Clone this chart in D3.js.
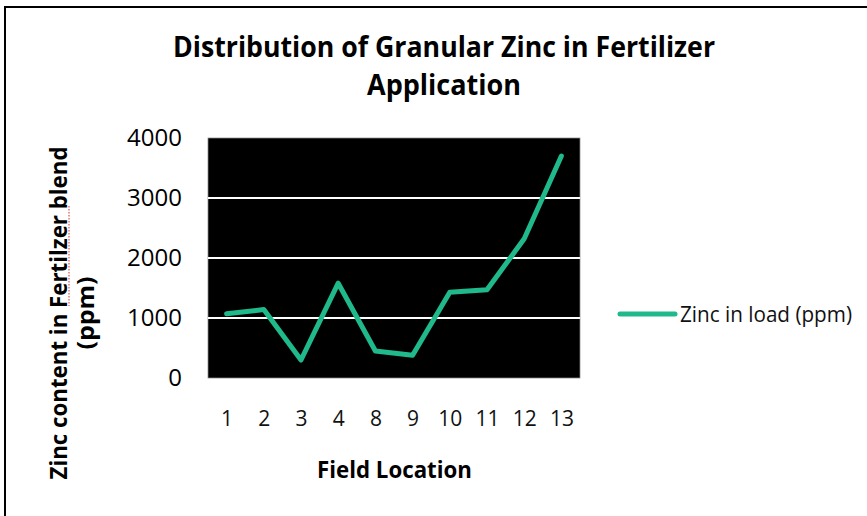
<!DOCTYPE html>
<html>
<head>
<meta charset="utf-8">
<script src="https://cdn.jsdelivr.net/npm/d3@7"></script>
<style>
  body { margin: 0; background: #fff; }
  svg { display: block; font-family: "Open Sans", "DejaVu Sans", sans-serif; }
</style>
</head>
<body>
<div id="chart"></div>
<script>
const titleLines = ["Distribution of Granular Zinc in Fertilizer", "Application"];
const fieldLocations = ["1", "2", "3", "4", "8", "9", "10", "11", "12", "13"];
const zincInLoad = [1070, 1140, 300, 1580, 450, 380, 1430, 1470, 2320, 3700];
const yTicks = [0, 1000, 2000, 3000, 4000];
const seriesName = "Zinc in load (ppm)";
const xTitle = "Field Location";
const yTitleLines = ["Zinc content in Fertilzer blend", "(ppm)"];

const width = 867, height = 516;
const plot = { left: 208, right: 580, top: 138, bottom: 378 };
const lineColor = "#20b98b";

const svg = d3.select("#chart").append("svg")
    .attr("width", width)
    .attr("height", height);

// outer frame (top and left edges visible)
svg.append("path")
    .attr("d", `M5,${height} L5,7 L${width},7`)
    .attr("fill", "none")
    .attr("stroke", "#000")
    .attr("stroke-width", 2);

// title
const titleWidths = [542, 154];
svg.selectAll("text.title")
    .data(titleLines)
    .enter().append("text")
    .attr("class", "title")
    .attr("x", 444)
    .attr("y", (d, i) => 57 + i * 38)
    .attr("text-anchor", "middle")
    .attr("font-size", 28)
    .attr("font-weight", "bold")
    .attr("textLength", (d, i) => titleWidths[i])
    .attr("lengthAdjust", "spacingAndGlyphs")
    .text(d => d);

const x = d3.scalePoint()
    .domain(fieldLocations)
    .range([plot.left, plot.right])
    .padding(0.5);

const y = d3.scaleLinear()
    .domain([0, 4000])
    .range([plot.bottom, plot.top]);

// plot area
svg.append("rect")
    .attr("x", plot.left)
    .attr("y", plot.top)
    .attr("width", plot.right - plot.left)
    .attr("height", plot.bottom - plot.top)
    .attr("fill", "#000")
    .attr("stroke", "#8a8a8a")
    .attr("stroke-width", 0.75);

// gridlines
svg.append("g")
    .selectAll("line")
    .data(yTicks.filter(d => d > 0 && d < 4000))
    .enter().append("line")
    .attr("x1", plot.left)
    .attr("x2", plot.right)
    .attr("y1", d => y(d))
    .attr("y2", d => y(d))
    .attr("stroke", "#fff")
    .attr("stroke-width", 2);

// y axis
const yAxis = svg.append("g")
    .attr("transform", `translate(${plot.left - 26},0)`)
    .call(d3.axisLeft(y).tickValues(yTicks).tickSize(0).tickPadding(0).tickFormat(d3.format("d")));
yAxis.select(".domain").remove();
yAxis.selectAll("text")
    .attr("font-size", 24)
    .attr("font-family", "'Open Sans', sans-serif")
    .attr("fill", "#000");

// x axis
const xAxis = svg.append("g")
    .attr("transform", `translate(0,${plot.bottom})`)
    .call(d3.axisBottom(x).tickSize(0).tickPadding(0));
xAxis.select(".domain").remove();
xAxis.selectAll("text")
    .attr("dy", 0)
    .attr("y", 48)
    .attr("font-size", 21)
    .attr("font-family", "'Open Sans', sans-serif")
    .attr("fill", "#111");

// line
const line = d3.line()
    .x((d, i) => x(fieldLocations[i]))
    .y(d => y(d));

svg.append("path")
    .datum(zincInLoad)
    .attr("d", line)
    .attr("fill", "none")
    .attr("stroke", lineColor)
    .attr("stroke-width", 5)
    .attr("stroke-linejoin", "round")
    .attr("stroke-linecap", "round");

// x title
svg.append("text")
    .attr("x", 394.5)
    .attr("y", 478)
    .attr("text-anchor", "middle")
    .attr("font-size", 23)
    .attr("font-weight", "bold")
    .attr("textLength", 155)
    .attr("lengthAdjust", "spacingAndGlyphs")
    .text(xTitle);

// y title
const yTitleWidths = [333, 73];
svg.selectAll("text.ytitle")
    .data(yTitleLines)
    .enter().append("text")
    .attr("class", "ytitle")
    .attr("transform", (d, i) => `translate(${67 + i * 27},313) rotate(-90)`)
    .attr("text-anchor", "middle")
    .attr("font-size", 23)
    .attr("font-weight", "bold")
    .attr("textLength", (d, i) => yTitleWidths[i])
    .attr("lengthAdjust", "spacingAndGlyphs")
    .text(d => d);

// spell-check squiggle under "Fertilzer" as in the source screenshot
svg.append("line")
    .attr("x1", 69).attr("x2", 69)
    .attr("y1", 206).attr("y2", 306)
    .attr("stroke", "#e05050")
    .attr("stroke-width", 1.2)
    .attr("stroke-dasharray", "1.5,1.5");

// legend
const legend = svg.append("g").attr("transform", "translate(620,314)");
legend.append("line")
    .attr("x1", 0).attr("x2", 55)
    .attr("stroke", lineColor)
    .attr("stroke-width", 5)
    .attr("stroke-linecap", "round");
legend.append("text")
    .attr("x", 60)
    .attr("y", 8)
    .attr("font-size", 22)
    .attr("fill", "#111")
    .attr("textLength", 172)
    .attr("lengthAdjust", "spacingAndGlyphs")
    .text(seriesName);
</script>
</body>
</html>
